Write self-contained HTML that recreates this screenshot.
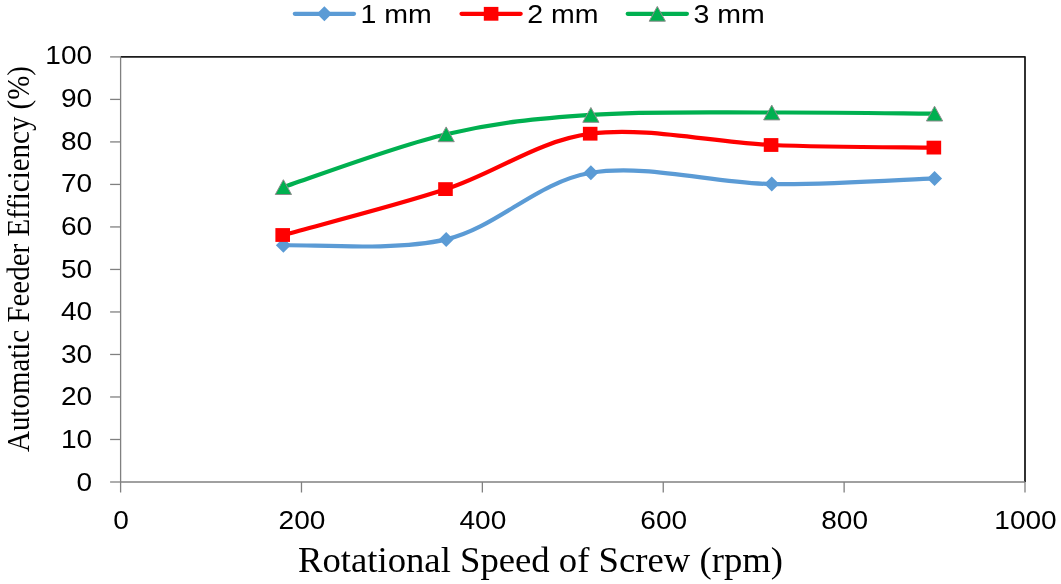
<!DOCTYPE html>
<html><head><meta charset="utf-8"><style>
html,body{margin:0;padding:0;background:#fff;overflow:hidden;}
svg{display:block;will-change:transform;}
.tk{font-family:"Liberation Sans",sans-serif;font-size:25px;fill:#000;}
.lg{font-family:"Liberation Sans",sans-serif;font-size:25px;fill:#000;}
.ttl{font-family:"Liberation Serif",serif;font-size:36.3px;fill:#000;}
.ttl2{font-family:"Liberation Serif",serif;font-size:31.5px;fill:#000;}
</style></head><body>
<svg width="1061" height="584" viewBox="0 0 1061 584">
<path d="M120.60,56.90 H1025.00 V482.00" fill="none" stroke="#1c1c1c" stroke-width="1.8" stroke-linejoin="round"/>
<line x1="120.60" y1="56.90" x2="120.60" y2="482.00" stroke="#808080" stroke-width="1.3"/>
<line x1="120.60" y1="482.00" x2="1025.00" y2="482.00" stroke="#808080" stroke-width="1.3"/>
<line x1="110.10" y1="482.00" x2="120.60" y2="482.00" stroke="#808080" stroke-width="1.3"/>
<text x="92.10" y="490.60" class="tk" text-anchor="end" textLength="15.60" lengthAdjust="spacingAndGlyphs">0</text>
<line x1="110.10" y1="439.49" x2="120.60" y2="439.49" stroke="#808080" stroke-width="1.3"/>
<text x="92.10" y="447.98" class="tk" text-anchor="end" textLength="31.20" lengthAdjust="spacingAndGlyphs">10</text>
<line x1="110.10" y1="396.98" x2="120.60" y2="396.98" stroke="#808080" stroke-width="1.3"/>
<text x="92.10" y="405.36" class="tk" text-anchor="end" textLength="31.20" lengthAdjust="spacingAndGlyphs">20</text>
<line x1="110.10" y1="354.47" x2="120.60" y2="354.47" stroke="#808080" stroke-width="1.3"/>
<text x="92.10" y="362.74" class="tk" text-anchor="end" textLength="31.20" lengthAdjust="spacingAndGlyphs">30</text>
<line x1="110.10" y1="311.96" x2="120.60" y2="311.96" stroke="#808080" stroke-width="1.3"/>
<text x="92.10" y="320.12" class="tk" text-anchor="end" textLength="31.20" lengthAdjust="spacingAndGlyphs">40</text>
<line x1="110.10" y1="269.45" x2="120.60" y2="269.45" stroke="#808080" stroke-width="1.3"/>
<text x="92.10" y="277.50" class="tk" text-anchor="end" textLength="31.20" lengthAdjust="spacingAndGlyphs">50</text>
<line x1="110.10" y1="226.94" x2="120.60" y2="226.94" stroke="#808080" stroke-width="1.3"/>
<text x="92.10" y="234.88" class="tk" text-anchor="end" textLength="31.20" lengthAdjust="spacingAndGlyphs">60</text>
<line x1="110.10" y1="184.43" x2="120.60" y2="184.43" stroke="#808080" stroke-width="1.3"/>
<text x="92.10" y="192.26" class="tk" text-anchor="end" textLength="31.20" lengthAdjust="spacingAndGlyphs">70</text>
<line x1="110.10" y1="141.92" x2="120.60" y2="141.92" stroke="#808080" stroke-width="1.3"/>
<text x="92.10" y="149.64" class="tk" text-anchor="end" textLength="31.20" lengthAdjust="spacingAndGlyphs">80</text>
<line x1="110.10" y1="99.41" x2="120.60" y2="99.41" stroke="#808080" stroke-width="1.3"/>
<text x="92.10" y="107.02" class="tk" text-anchor="end" textLength="31.20" lengthAdjust="spacingAndGlyphs">90</text>
<line x1="110.10" y1="56.90" x2="120.60" y2="56.90" stroke="#808080" stroke-width="1.3"/>
<text x="92.10" y="64.40" class="tk" text-anchor="end" textLength="46.80" lengthAdjust="spacingAndGlyphs">100</text>
<line x1="120.60" y1="482.00" x2="120.60" y2="492.50" stroke="#808080" stroke-width="1.3"/>
<text x="121.10" y="528.90" class="tk" text-anchor="middle" textLength="15.60" lengthAdjust="spacingAndGlyphs">0</text>
<line x1="301.48" y1="482.00" x2="301.48" y2="492.50" stroke="#808080" stroke-width="1.3"/>
<text x="301.98" y="528.90" class="tk" text-anchor="middle" textLength="46.80" lengthAdjust="spacingAndGlyphs">200</text>
<line x1="482.36" y1="482.00" x2="482.36" y2="492.50" stroke="#808080" stroke-width="1.3"/>
<text x="482.86" y="528.90" class="tk" text-anchor="middle" textLength="46.80" lengthAdjust="spacingAndGlyphs">400</text>
<line x1="663.24" y1="482.00" x2="663.24" y2="492.50" stroke="#808080" stroke-width="1.3"/>
<text x="663.74" y="528.90" class="tk" text-anchor="middle" textLength="46.80" lengthAdjust="spacingAndGlyphs">600</text>
<line x1="844.12" y1="482.00" x2="844.12" y2="492.50" stroke="#808080" stroke-width="1.3"/>
<text x="844.62" y="528.90" class="tk" text-anchor="middle" textLength="46.80" lengthAdjust="spacingAndGlyphs">800</text>
<line x1="1025.00" y1="482.00" x2="1025.00" y2="492.50" stroke="#808080" stroke-width="1.3"/>
<text x="1025.50" y="528.90" class="tk" text-anchor="middle" textLength="62.40" lengthAdjust="spacingAndGlyphs">1000</text>
<path d="M283.39,245.30 C310.52,244.32 394.93,251.48 446.18,239.40 C497.43,227.32 536.62,182.02 590.89,172.80 C645.15,163.58 714.49,183.17 771.77,184.10 C829.05,185.03 907.43,179.35 934.56,178.40" fill="none" stroke="#5B9BD5" stroke-width="4.2" stroke-linecap="round" stroke-linejoin="round"/>
<path d="M283.39,237.80 L290.89,245.30 L283.39,252.80 L275.89,245.30 Z" fill="#5B9BD5"/>
<path d="M446.18,231.90 L453.68,239.40 L446.18,246.90 L438.68,239.40 Z" fill="#5B9BD5"/>
<path d="M590.89,165.30 L598.39,172.80 L590.89,180.30 L583.39,172.80 Z" fill="#5B9BD5"/>
<path d="M771.77,176.60 L779.27,184.10 L771.77,191.60 L764.27,184.10 Z" fill="#5B9BD5"/>
<path d="M934.56,170.90 L942.06,178.40 L934.56,185.90 L927.06,178.40 Z" fill="#5B9BD5"/>
<path d="M283.39,235.00 C310.52,227.35 394.93,205.98 446.18,189.10 C497.43,172.22 536.62,141.05 590.89,133.70 C645.15,126.35 714.49,142.68 771.77,145.00 C829.05,147.32 907.43,147.17 934.56,147.60" fill="none" stroke="#FF0000" stroke-width="4.2" stroke-linecap="round" stroke-linejoin="round"/>
<rect x="275.39" y="228.10" width="14.60" height="13.80" fill="#FF0000"/>
<rect x="438.18" y="182.20" width="14.60" height="13.80" fill="#FF0000"/>
<rect x="582.89" y="126.80" width="14.60" height="13.80" fill="#FF0000"/>
<rect x="763.77" y="138.10" width="14.60" height="13.80" fill="#FF0000"/>
<rect x="926.56" y="140.70" width="14.60" height="13.80" fill="#FF0000"/>
<path d="M283.39,187.10 C310.52,178.30 394.93,146.33 446.18,134.30 C497.43,122.27 536.62,118.53 590.89,114.90 C645.15,111.27 714.49,112.72 771.77,112.50 C829.05,112.28 907.43,113.42 934.56,113.60" fill="none" stroke="#00B050" stroke-width="4.2" stroke-linecap="round" stroke-linejoin="round"/>
<path d="M283.39,179.70 L291.49,194.50 L275.29,194.50 Z" fill="#00B050" stroke="#8c8c8c" stroke-width="1" stroke-linejoin="miter"/>
<path d="M446.18,126.90 L454.28,141.70 L438.08,141.70 Z" fill="#00B050" stroke="#8c8c8c" stroke-width="1" stroke-linejoin="miter"/>
<path d="M590.89,107.50 L598.99,122.30 L582.79,122.30 Z" fill="#00B050" stroke="#8c8c8c" stroke-width="1" stroke-linejoin="miter"/>
<path d="M771.77,105.10 L779.87,119.90 L763.67,119.90 Z" fill="#00B050" stroke="#8c8c8c" stroke-width="1" stroke-linejoin="miter"/>
<path d="M934.56,106.20 L942.66,121.00 L926.46,121.00 Z" fill="#00B050" stroke="#8c8c8c" stroke-width="1" stroke-linejoin="miter"/>
<line x1="294.80" y1="13.8" x2="354.00" y2="13.8" stroke="#5B9BD5" stroke-width="4.2" stroke-linecap="round"/>
<path d="M324.40,6.30 L331.90,13.80 L324.40,21.30 L316.90,13.80 Z" fill="#5B9BD5"/>
<text x="360.50" y="22.9" class="lg" textLength="71.3" lengthAdjust="spacingAndGlyphs">1 mm</text>
<line x1="461.50" y1="13.8" x2="520.70" y2="13.8" stroke="#FF0000" stroke-width="4.2" stroke-linecap="round"/>
<rect x="483.80" y="6.90" width="14.60" height="13.80" fill="#FF0000"/>
<text x="527.20" y="22.9" class="lg" textLength="71.3" lengthAdjust="spacingAndGlyphs">2 mm</text>
<line x1="627.70" y1="13.8" x2="686.90" y2="13.8" stroke="#00B050" stroke-width="4.2" stroke-linecap="round"/>
<path d="M657.30,6.40 L665.40,21.20 L649.20,21.20 Z" fill="#00B050" stroke="#8c8c8c" stroke-width="1" stroke-linejoin="miter"/>
<text x="693.40" y="22.9" class="lg" textLength="71.3" lengthAdjust="spacingAndGlyphs">3 mm</text>
<text x="298" y="571.6" class="ttl" textLength="485" lengthAdjust="spacingAndGlyphs">Rotational Speed of Screw (rpm)</text>
<text transform="translate(29.1,452) rotate(-90)" x="0" y="0" class="ttl2" textLength="386" lengthAdjust="spacingAndGlyphs">Automatic Feeder Efficiency (%)</text>
</svg>
</body></html>
